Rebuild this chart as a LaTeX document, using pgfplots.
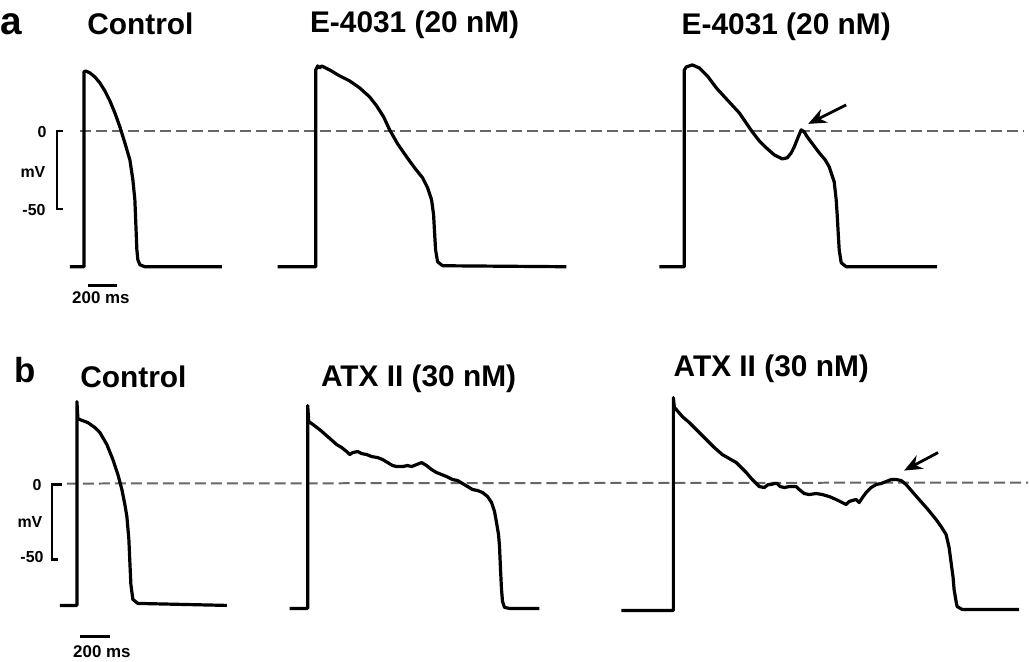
\documentclass[border=0pt]{standalone}
\usepackage{pgfplots}
\pgfplotsset{compat=1.18}
\usepackage{fontspec}
\setmainfont{Liberation Sans}
\usetikzlibrary{arrows.meta}
\begin{document}
\begin{tikzpicture}
\begin{axis}[width=1029bp, height=662bp, scale only axis,
  xmin=0, xmax=1029, ymin=0, ymax=662, y dir=reverse,
  hide axis, clip=false]
\addplot[draw=none] coordinates {(0,0) (1029,662)};
% zero lines
\addplot[color=black!60, line width=2bp, dash pattern=on 11bp off 5bp] coordinates {(80,131) (1025,131)};
\addplot[color=black!60, line width=2bp, dash pattern=on 11bp off 5bp] coordinates {(67,484) (1029,483)};
% row a traces
\addplot[black, line width=3.2bp, line join=round] coordinates {
(70,267) (84,267) (84,72) (86,71) (90,73) (95,77) (100,83) (105,91) (110,101) (115,113) (120,127) (125,143) (130,160) (133,180) (135,200) (136,225) (137,250) (138,260) (140,265) (145,267) (222,267)};
\addplot[black, line width=3.2bp, line join=round] coordinates {
(278,267) (316,267) (316,70) (318,66) (320,68) (322,66) (330,70) (340,76) (350,81) (360,88) (370,97) (377,106) (384,117) (390,130) (398,144) (407,157) (415,168) (423,178) (428,188) (432,200) (434,215) (435,233) (436,250) (438,262) (443,266) (567,267)};
\addplot[black, line width=3.2bp, line join=round] coordinates {
(660,267) (685,267) (685,70) (687,67) (693,65) (700,68) (708,76) (717,88) (728,100) (740,113) (753,132) (760,141) (767,148) (775,155) (783,159) (788,158) (792,153) (795,147) (799,137) (802,130) (805,132) (808,137) (814,145) (820,153) (826,160) (830,167) (835,182) (837,200) (838,215) (839,233) (840,250) (842,263) (847,267) (938,267)};
% row b traces
\addplot[black, line width=3.2bp, line join=round] coordinates {
(60,606) (77,606) (77,402) (78,419) (80,420) (88,423) (95,428) (100,433) (107,445) (113,460) (118,475) (122,490) (125,505) (127,517) (129,540) (130,563) (131,585) (133,600) (138,604) (227,606)};
\addplot[black, line width=3.2bp, line join=round] coordinates {
(290,609) (308,609) (308,406) (309,422) (312,424) (320,430) (328,437) (337,445) (342,448) (347,452) (350,455) (353,453) (358,452) (362,454) (367,455) (372,457) (378,458) (383,460) (388,463) (393,466) (397,467) (403,467) (408,466) (412,467) (417,465) (422,463) (427,466) (432,470) (437,473) (442,475) (447,477) (453,480) (458,481) (463,484) (468,487) (473,490) (478,491) (483,493) (488,497) (492,503) (495,512) (497,523) (499,535) (500,547) (501,570) (502,590) (503,602) (505,608) (510,609) (540,609)};
\addplot[black, line width=3.2bp, line join=round] coordinates {
(622,611) (674,611) (674,398) (675,408) (677,410) (683,417) (690,423) (698,431) (707,440) (715,448) (723,455) (730,459) (737,463) (742,468) (747,473) (753,480) (760,487) (765,488) (769,485) (772,485) (775,484) (778,484) (781,487) (785,488) (790,487) (797,487) (800,490) (805,494) (810,495) (817,494) (823,495) (830,497) (837,500) (843,503) (847,505) (850,502) (853,501) (857,500) (860,503) (864,497) (867,493) (872,488) (877,485) (882,484) (887,482) (892,480) (897,480) (902,481) (907,485) (913,492) (920,500) (928,509) (937,520) (942,527) (947,535) (950,548) (952,563) (954,578) (955,590) (957,602) (958,607) (963,610) (1020,610)};
% scale bars
\addplot[black, line width=2.4bp] coordinates {(63,131) (57,131) (57,209) (63,209)};
\addplot[black, line width=2.8bp] coordinates {(88,286) (117,286)};
\addplot[black, line width=2.4bp] coordinates {(62,485) (52,485) (52,560) (58,560)};
\addplot[black, line width=2.8bp] coordinates {(80,637) (110,637)};
% arrows
\addplot[black, line width=2.8bp, -{Stealth[length=18bp, width=15bp]}] coordinates {(847,105) (809,124)};
\addplot[black, line width=2.8bp, -{Stealth[length=18bp, width=15bp]}] coordinates {(939,453) (905,471)};
% labels
\node[anchor=base west, inner sep=0pt, font=\fontsize{39}{40}\selectfont\bfseries] at (axis cs:0,35) {a};
\node[anchor=base west, inner sep=0pt, font=\fontsize{35}{36}\selectfont\bfseries] at (axis cs:14,383) {b};
\node[anchor=base, inner sep=0pt, font=\fontsize{30}{34}\selectfont\bfseries] at (axis cs:140.5,35) {Control};
\node[anchor=base, inner sep=0pt, font=\fontsize{30}{34}\selectfont\bfseries] at (axis cs:415,33) {E-4031 (20 nM)};
\node[anchor=base, inner sep=0pt, font=\fontsize{30}{34}\selectfont\bfseries] at (axis cs:787,35) {E-4031 (20 nM)};
\node[anchor=base, inner sep=0pt, font=\fontsize{30}{34}\selectfont\bfseries] at (axis cs:133.5,388) {Control};
\node[anchor=base, inner sep=0pt, font=\fontsize{30}{34}\selectfont\bfseries] at (axis cs:419,387) {ATX II (30 nM)};
\node[anchor=base, inner sep=0pt, font=\fontsize{30}{34}\selectfont\bfseries] at (axis cs:772,377) {ATX II (30 nM)};
% scale text
\node[inner sep=0pt, font=\fontsize{16}{18}\selectfont\bfseries] at (axis cs:42,132) {0};
\node[inner sep=0pt, font=\fontsize{16}{18}\selectfont\bfseries] at (axis cs:33,172) {mV};
\node[inner sep=0pt, font=\fontsize{16}{18}\selectfont\bfseries] at (axis cs:34,210) {-50};
\node[inner sep=0pt, font=\fontsize{17}{19}\selectfont\bfseries] at (axis cs:101,298) {200 ms};
\node[inner sep=0pt, font=\fontsize{16}{18}\selectfont\bfseries] at (axis cs:37,485) {0};
\node[inner sep=0pt, font=\fontsize{16}{18}\selectfont\bfseries] at (axis cs:30,523) {mV};
\node[inner sep=0pt, font=\fontsize{16}{18}\selectfont\bfseries] at (axis cs:32,558) {-50};
\node[inner sep=0pt, font=\fontsize{17}{19}\selectfont\bfseries] at (axis cs:102,652) {200 ms};
\end{axis}
\end{tikzpicture}
\end{document}
